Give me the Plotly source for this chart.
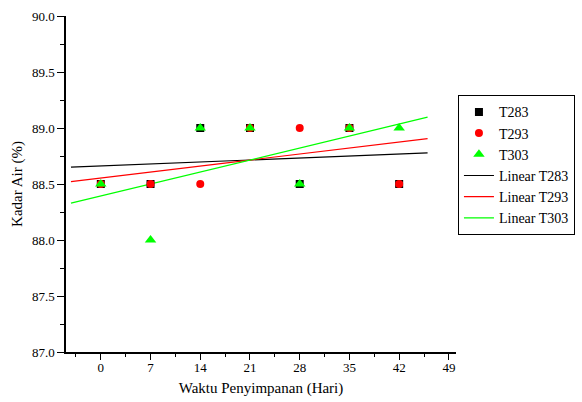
import numpy as np
import plotly.graph_objects as go

days = [0, 7, 14, 21, 28, 35, 42]
t283 = [88.5, 88.5, 89.0, 89.0, 88.5, 89.0, 88.5]
t293 = [88.5, 88.5, 88.5, 89.0, 89.0, 89.0, 88.5]
t303 = [88.5, 88.0, 89.0, 89.0, 88.5, 89.0, 89.0]
fit_range = [-4.2, 46.0]
x_ticks = [0, 7, 14, 21, 28, 35, 42, 49]

font = "'Times New Roman', 'Liberation Serif', 'DejaVu Serif', serif"
fig = go.Figure()

series = [("T283", t283, "black", "square", 8),
          ("T293", t293, "red", "circle", 8),
          ("T303", t303, "#00ff00", "triangle-up", 10)]

for name, ys, col, sym, sz in series:
    m, b = np.polyfit(days, ys, 1)
    xs = np.array(fit_range)
    fig.add_trace(go.Scatter(x=xs, y=m * xs + b, mode="lines", name="Linear " + name,
                             line=dict(color=col, width=1.2), legendrank=10 + len(fig.data)))

for name, ys, col, sym, sz in series:
    fig.add_trace(go.Scatter(x=days, y=ys, mode="markers", name=name, legendrank=len(fig.data),
                             marker=dict(color=col, symbol=sym, size=sz, line=dict(width=0))))

fig.update_layout(
    width=582, height=402,
    margin=dict(l=66, r=126, t=16, b=50, autoexpand=False),
    paper_bgcolor="white", plot_bgcolor="white",
    font=dict(family=font, size=13, color="black"),
    showlegend=True,
    legend=dict(x=1.005, y=0.764, xanchor="left", yanchor="top",
                bordercolor="black", borderwidth=1, bgcolor="white",
                font=dict(family=font, size=14), tracegroupgap=0,
                itemwidth=30),
    xaxis=dict(range=[-4.9, 50], tickmode="array", tickvals=x_ticks,
               ticks="outside", ticklen=6, tickwidth=1, tickcolor="black",
               showline=True, linecolor="black", linewidth=1.5,
               showgrid=False, zeroline=False, automargin=False,
               ticklabelstandoff=-3,
               minor=dict(tickmode="linear", tick0=-3.5, dtick=7, ticks="outside",
                          ticklen=3, tickcolor="black", showgrid=False),
               title=dict(text="Waktu Penyimpanan (Hari)", font=dict(family=font, size=15), standoff=8),
               tickfont=dict(family=font, size=13)),
    yaxis=dict(range=[87.0, 90.0], tick0=87, dtick=0.5, tickformat=".1f",
               ticks="outside", ticklen=7, tickwidth=1, tickcolor="black",
               showline=True, linecolor="black", linewidth=1.5,
               showgrid=False, zeroline=False, automargin=False,
               minor=dict(tickmode="linear", dtick=0.25, ticks="outside",
                          ticklen=4, tickcolor="black", showgrid=False),
               title=dict(text="Kadar Air (%)", font=dict(family=font, size=15), standoff=6),
               tickfont=dict(family=font, size=13)),
)

fig.write_html("out.html", config={"displayModeBar": False},
               post_script="document.body.style.margin='0';document.body.style.padding='0';document.body.style.overflow='hidden';")
